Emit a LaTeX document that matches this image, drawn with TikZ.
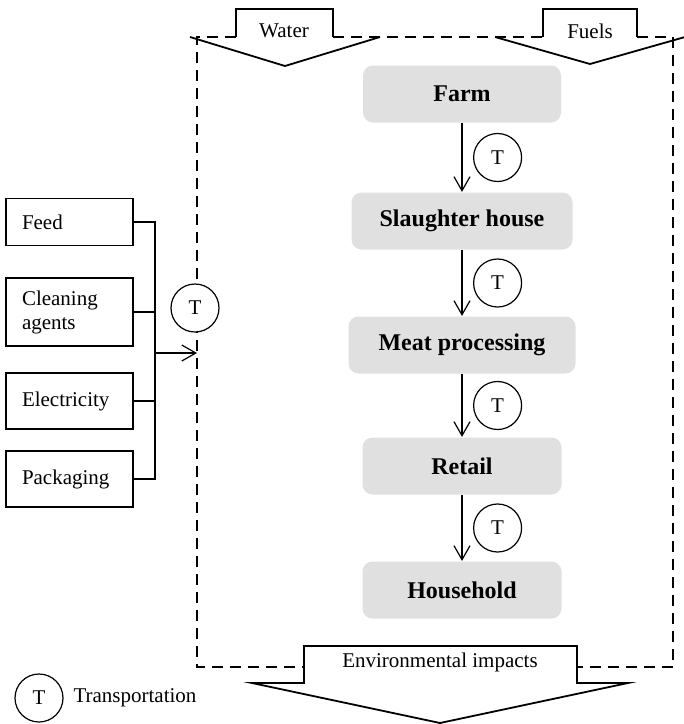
\documentclass[tikz,border=0pt]{standalone}
\usepackage{fontspec}
\setmainfont{Liberation Serif}
\usetikzlibrary{arrows.meta, positioning}

\begin{document}
\begin{tikzpicture}[x=1pt, y=-1pt, line width=1.2pt,
    txt/.style={font=\fontsize{21}{24}\selectfont},
    stage/.style={fill=black!12, rounded corners=10pt, minimum height=57pt,
        font=\fontsize{24}{28}\selectfont\bfseries},
    input/.style={draw, txt, text width=95pt, align=left, inner xsep=16pt, inner ysep=2pt},
    trans/.style={draw, circle, fill=white, minimum size=48pt, inner sep=0pt, txt},
    flow/.style={-{Straight Barb[length=14pt, width=16pt]}},
    boundary/.style={dashed, dash pattern=on 11pt off 7pt, line width=1.8pt},
    outline/.style={line width=1.8pt, line join=miter}]
    \useasboundingbox (0,0) rectangle (684,724);

    % system boundary
    \draw[boundary] (236,37) -- (197,37) -- (197,667) -- (304,667);
    \draw[boundary] (333,37) -- (543,37);
    \draw[boundary] (637,37) -- (673,37) -- (673,667) -- (577,667);

    % water and fuels
    \draw[outline] (236,37) |- (333,9) -- (333,37);
    \draw[outline] (190,37) -- (285,66) -- (380,37);
    \node[txt] (water) at (284,31) {Water};
    \draw[outline] (543,37) |- (637,9) -- (637,37);
    \draw[outline] (495,37) -- (590,64) -- (685,37);
    \node[txt] (fuels) at (590,31) {Fuels};

    % environmental impacts
    \filldraw[outline, fill=white] (304,683) |- (577,646) -- (577,683) -- (628,683)
        -- (440,723) -- (252,683) -- cycle;
    \node[txt] (impacts) at (440,662) {Environmental impacts};

    % stages
    \node[stage, minimum width=198pt] (farm) at (462,94) {Farm};
    \node[stage, minimum width=221pt] (slaughter) at (462,221) {Slaughter house};
    \node[stage, minimum width=227pt] (meat) at (462,345) {Meat processing};
    \node[stage, minimum width=199pt] (retail) at (462,466) {Retail};
    \node[stage, minimum width=199pt] (household) at (462,590) {Household};

    \draw[flow] (farm) -- node[trans, right=11pt] (t1) {T} (slaughter);
    \draw[flow] (slaughter) -- node[trans, right=11pt] (t2) {T} (meat);
    \draw[flow] (meat) -- node[trans, right=11pt] (t3) {T} (retail);
    \draw[flow] (retail) -- node[trans, right=11pt] (t4) {T} (household);

    % inputs
    \node[input, minimum height=47pt] (feed) at (69.5,222) {Feed};
    \node[input, minimum height=68pt] (cleaning) at (69.5,312) {Cleaning agents};
    \node[input, minimum height=56pt] (electricity) at (69.5,401) {Electricity};
    \node[input, minimum height=56pt] (packaging) at (69.5,479) {Packaging};

    \coordinate (bus) at (155,479);
    \coordinate (inlet) at (197,353);
    \draw (feed) -| (bus) -- (packaging);
    \draw (cleaning) -- (cleaning -| bus);
    \draw (electricity) -- (electricity -| bus);
    \draw[flow] (inlet -| bus) -- (inlet);
    \node[trans] (t0) at (195,308) {T};

    % legend
    \node[trans] (tkey) at (39,698) {T};
    \node[txt, right=6pt of tkey] (tlabel) {Transportation};
\end{tikzpicture}
\end{document}
